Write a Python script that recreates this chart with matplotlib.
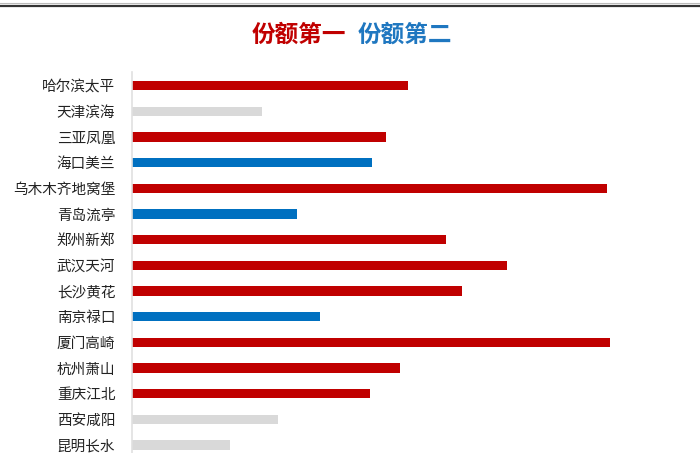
import matplotlib
matplotlib.use("Agg")
import matplotlib.pyplot as plt
from matplotlib.lines import Line2D

plt.rcParams['font.family'] = ['Noto Sans CJK SC', 'DejaVu Sans']

airports = ["哈尔滨太平", "天津滨海", "三亚凤凰", "海口美兰", "乌木木齐地窝堡",
            "青岛流亭", "郑州新郑", "武汉天河", "长沙黄花", "南京禄口",
            "厦门高崎", "杭州萧山", "重庆江北", "西安咸阳", "昆明长水"]
share = [276, 130, 254, 240, 475, 165, 314, 375, 330, 188, 478, 268, 238, 146, 98]
rank = ["first", "other", "first", "second", "first",
        "second", "first", "first", "first", "second",
        "first", "first", "first", "other", "other"]

palette = {"first": "#C00000", "second": "#0070C0", "other": "#D9D9D9"}
colors = [palette[r] for r in rank]

fig = plt.figure(figsize=(7, 4.53), dpi=100)
ax = fig.add_axes([132 / 700, 0, 1 - 132 / 700, 1 - 72 / 453])

ypos = list(range(len(airports)))
ax.barh(ypos, share, height=0.36, color=colors)
ax.set_ylim(14.31, -0.53)
ax.set_xlim(0, 568)
ax.set_yticks(ypos)
ax.set_yticklabels(airports, fontsize=10.5, color="#222222")
ax.tick_params(axis="y", length=0, pad=12)
ax.set_xticks([])
for s in ["top", "right", "bottom"]:
    ax.spines[s].set_visible(False)
ax.spines["left"].set_color("#E0E0E0")
ax.spines["left"].set_linewidth(1.2)

# title in two colours
fig.text(0.495, 1 - 35 / 453, "份额第一", color="#C00000", fontsize=17,
         fontweight="bold", ha="right", va="center")
fig.text(0.511, 1 - 35 / 453, "份额第二", color="#1F77C0", fontsize=17,
         fontweight="bold", ha="left", va="center")

# header rule
fig.add_artist(Line2D([0, 1], [1 - 3 / 453, 1 - 3 / 453], color="#BBBBBB", lw=0.8))
fig.add_artist(Line2D([0, 1], [1 - 5.5 / 453, 1 - 5.5 / 453], color="#333333", lw=1.6))

plt.savefig("out.png", dpi=100)
